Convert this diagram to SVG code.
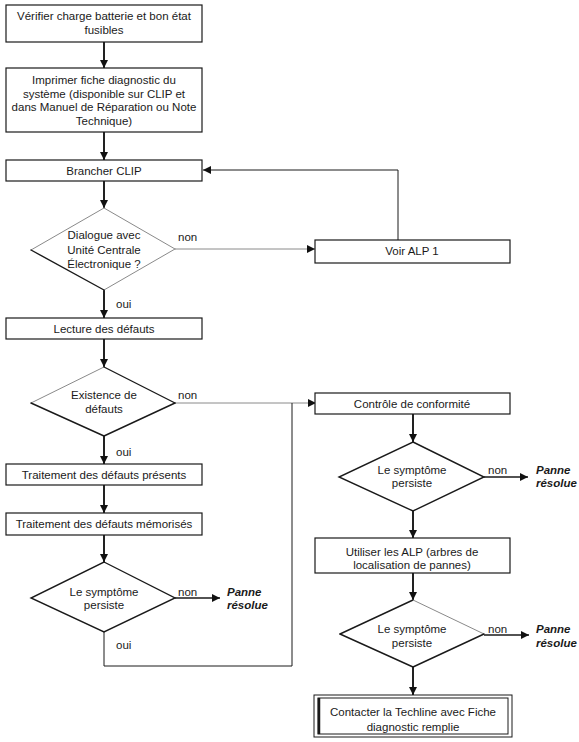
<svg xmlns="http://www.w3.org/2000/svg" width="579" height="742" viewBox="0 0 579 742">
<style>
text{font-family:"Liberation Sans",Arial,sans-serif;font-size:11.5px;fill:#1a1a1a;text-anchor:middle}
.lbl{text-anchor:start}
.pr{text-anchor:start;font-weight:bold;font-style:italic}
.box{fill:#fff;stroke:#1a1a1a;stroke-width:1.2}
.dia{fill:#fff;stroke:#1a1a1a;stroke-width:1.4}
.df{fill:#fff;stroke:none}
.de{stroke:#1a1a1a;stroke-width:1.4;stroke-linecap:round}
.dg{stroke:#8a8a8a;stroke-width:1;stroke-linecap:round}
.main{fill:none;stroke:#222;stroke-width:2}
.thin{fill:none;stroke:#1a1a1a;stroke-width:1}
.gray{fill:none;stroke:#8a8a8a;stroke-width:1}
.med{fill:none;stroke:#1a1a1a;stroke-width:1.4}
</style>
<defs>
<marker id="ah" markerUnits="userSpaceOnUse" markerWidth="9" markerHeight="9" refX="8" refY="4" orient="auto">
<path d="M0,0 L8,4 L0,8 z" fill="#111"/>
</marker>
</defs>
<rect width="579" height="742" fill="#fff"/>

<g id="connectors">
<line class="main" x1="104" y1="42" x2="104" y2="68" marker-end="url(#ah)"/>
<line class="main" x1="104" y1="132" x2="104" y2="160" marker-end="url(#ah)"/>
<line class="main" x1="104" y1="181" x2="104" y2="208" marker-end="url(#ah)"/>
<line class="gray" x1="175" y1="249" x2="315" y2="249" marker-end="url(#ah)"/>
<polyline class="thin" points="398,240 398,170 203,170" marker-end="url(#ah)"/>
<line class="main" x1="104" y1="290" x2="104" y2="318" marker-end="url(#ah)"/>
<line class="main" x1="104" y1="339" x2="104" y2="367" marker-end="url(#ah)"/>
<line class="gray" x1="175" y1="403" x2="316" y2="403" marker-end="url(#ah)"/>
<line class="main" x1="104" y1="436" x2="104" y2="464" marker-end="url(#ah)"/>
<line class="main" x1="104" y1="485" x2="104" y2="513" marker-end="url(#ah)"/>
<line class="main" x1="104" y1="535" x2="104" y2="562" marker-end="url(#ah)"/>
<line class="med" x1="175" y1="598" x2="220" y2="598" marker-end="url(#ah)"/>
<polyline class="thin" points="104,632 104,666 292,666 292,403"/>
<line class="main" x1="413" y1="414" x2="413" y2="442" marker-end="url(#ah)"/>
<line class="med" x1="484" y1="477" x2="528" y2="477" marker-end="url(#ah)"/>
<line class="main" x1="413" y1="511" x2="413" y2="538" marker-end="url(#ah)"/>
<line class="main" x1="413" y1="573" x2="413" y2="600" marker-end="url(#ah)"/>
<line class="med" x1="484" y1="635" x2="529" y2="635" marker-end="url(#ah)"/>
<line class="main" x1="413" y1="667" x2="413" y2="695" marker-end="url(#ah)"/>
</g>

<g id="n1">
<rect class="box" x="6" y="5" width="196" height="37"/>
<text x="104" y="20">Vérifier charge batterie et bon état</text>
<text x="104" y="33.5">fusibles</text>
</g>
<g id="n2">
<rect class="box" x="6" y="68" width="196" height="64"/>
<text x="104" y="84">Imprimer fiche diagnostic du</text>
<text x="104" y="97.5">système (disponible sur CLIP et</text>
<text x="104" y="111">dans Manuel de Réparation ou Note</text>
<text x="104" y="124.5">Technique)</text>
</g>
<g id="n3">
<rect class="box" x="6" y="160" width="196" height="21"/>
<text x="104" y="174.5">Brancher CLIP</text>
</g>
<g id="d1">
<polygon class="df" points="104,208 175,249 104,290 31,250"/>
<line class="dg" x1="31" y1="250" x2="104" y2="208"/>
<line class="dg" x1="104" y1="208" x2="175" y2="249"/>
<line class="dg" x1="175" y1="249" x2="104" y2="290"/>
<line class="de" x1="31" y1="250" x2="104" y2="290" stroke-width="1.6"/>
<text x="104" y="239">Dialogue avec</text>
<text x="104" y="253.5">Unité Centrale</text>
<text x="104" y="268">Électronique ?</text>
<text class="lbl" x="178" y="241">non</text>
<text class="lbl" x="116" y="308">oui</text>
</g>
<g id="n4">
<rect class="box" x="315" y="240" width="195" height="23"/>
<text x="412" y="255">Voir ALP 1</text>
</g>
<g id="n5">
<rect class="box" x="6" y="318" width="196" height="21"/>
<text x="104" y="333">Lecture des défauts</text>
</g>
<g id="d2">
<polygon class="df" points="104,367 175,403 104,436 31,403"/>
<line class="dg" x1="31" y1="403" x2="104" y2="367"/>
<line class="de" x1="104" y1="367" x2="175" y2="403"/>
<line class="de" x1="175" y1="403" x2="104" y2="436"/>
<line class="de" x1="104" y1="436" x2="31" y2="403"/>
<text x="104" y="399">Existence de</text>
<text x="104" y="413">défauts</text>
<text class="lbl" x="178" y="399">non</text>
<text class="lbl" x="116" y="456">oui</text>
</g>
<g id="n6">
<rect class="box" x="6" y="464" width="196" height="21"/>
<text x="104" y="479">Traitement des défauts présents</text>
</g>
<g id="n7">
<rect class="box" x="6" y="513" width="196" height="22"/>
<text x="104" y="528">Traitement des défauts mémorisés</text>
</g>
<g id="d3">
<polygon class="dia" points="104,562 175,598 104,632 31,598"/>
<text x="104" y="596">Le symptôme</text>
<text x="104" y="609">persiste</text>
<text class="lbl" x="178" y="596">non</text>
<text class="lbl" x="116" y="649">oui</text>
</g>
<g id="r1">
<text class="pr" x="227" y="596">Panne</text>
<text class="pr" x="227" y="609">résolue</text>
</g>
<g id="n8">
<rect class="box" x="315" y="393" width="195" height="21"/>
<text x="412" y="408">Contrôle de conformité</text>
</g>
<g id="d4">
<polygon class="dia" points="413,442 484,477 413,511 339,477"/>
<text x="412" y="474">Le symptôme</text>
<text x="412" y="487">persiste</text>
<text class="lbl" x="488" y="474">non</text>
</g>
<g id="r2">
<text class="pr" x="536" y="474">Panne</text>
<text class="pr" x="536" y="487">résolue</text>
</g>
<g id="n9">
<rect class="box" x="315" y="538" width="195" height="35"/>
<text x="412" y="556">Utiliser les ALP (arbres de</text>
<text x="412" y="569">localisation de pannes)</text>
</g>
<g id="d5">
<polygon class="df" points="413,600 484,634 413,667 340,634"/>
<line class="de" x1="340" y1="634" x2="413" y2="600"/>
<line class="dg" x1="413" y1="600" x2="484" y2="634"/>
<line class="de" x1="484" y1="634" x2="413" y2="667"/>
<line class="de" x1="413" y1="667" x2="340" y2="634"/>
<text x="412" y="633">Le symptôme</text>
<text x="412" y="647">persiste</text>
<text class="lbl" x="488" y="633">non</text>
</g>
<g id="r3">
<text class="pr" x="536" y="633">Panne</text>
<text class="pr" x="536" y="647">résolue</text>
</g>
<g id="n10">
<rect x="314" y="695" width="198" height="42" fill="#fff" stroke="#1a1a1a" stroke-width="1"/>
<rect x="318" y="698" width="190" height="36" fill="none" stroke="#1a1a1a" stroke-width="1"/>
<line x1="319" y1="698" x2="319" y2="734" stroke="#1a1a1a" stroke-width="2.5"/>
<text x="413" y="716">Contacter la Techline avec Fiche</text>
<text x="413" y="731">diagnostic remplie</text>
</g>
</svg>
